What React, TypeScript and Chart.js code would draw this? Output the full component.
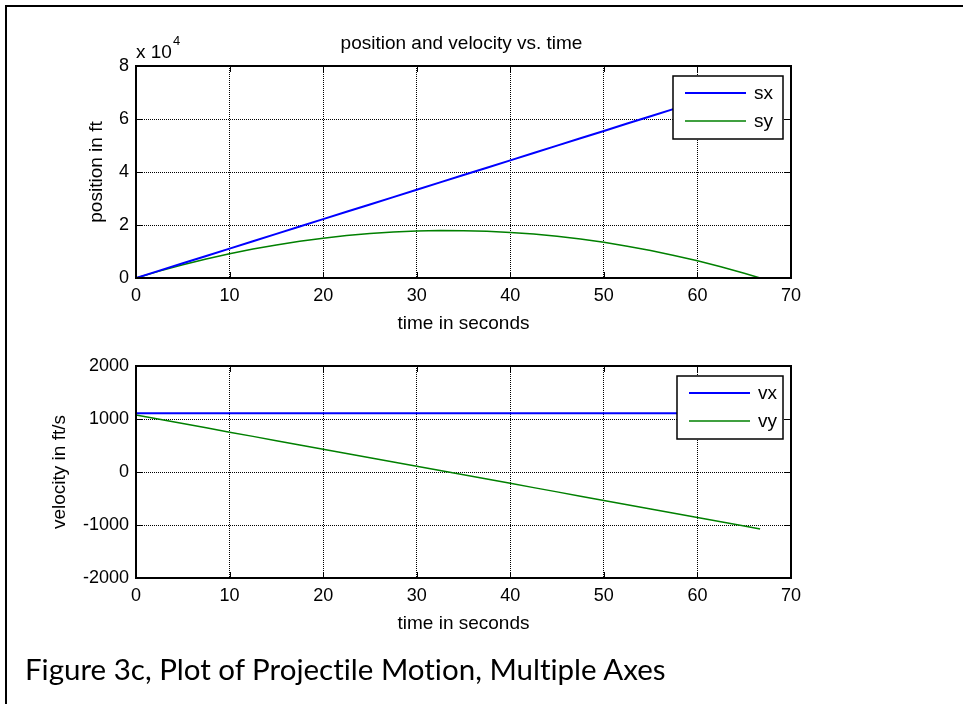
import React, { useEffect, useRef } from "react";
import { Chart, registerables } from "chart.js";

Chart.register(...registerables);

// ---------- data ----------
const timeS = [0, 2.5, 5, 7.5, 10, 12.5, 15, 17.5, 20, 22.5, 25, 27.5, 30, 32.5, 35, 37.5, 40, 42.5, 45, 47.5, 50, 52.5, 55, 57.5, 60, 62.5, 65, 66.7];
const sxFt = [0, 2775, 5550, 8325, 11100, 13875, 16650, 19425, 22200, 24975, 27750, 30525, 33300, 36075, 38850, 41625, 44400, 47175, 49950, 52725, 55500, 58275, 61050, 63825, 66600, 69375, 72150, 74040];
const syFt = [0, 2584, 4968, 7149, 9130, 10909, 12488, 13864, 15040, 16014, 16788, 17359, 17730, 17899, 17868, 17634, 17200, 16564, 15728, 14689, 13450, 12009, 10368, 8524, 6480, 4234, 1788, 0];
const vxFtS = [1110, 1110, 1110, 1110, 1110, 1110, 1110, 1110, 1110, 1110, 1110, 1110, 1110, 1110, 1110, 1110, 1110, 1110, 1110, 1110, 1110, 1110, 1110, 1110, 1110, 1110, 1110, 1110];
const vyFtS = [1074, 994, 913, 833, 752, 672, 591, 511, 430, 350, 269, 189, 108, 28, -53, -134, -214, -295, -375, -456, -536, -617, -697, -778, -858, -939, -1019, -1074];

const xTicks = [0, 10, 20, 30, 40, 50, 60, 70];
const posTicks = [0, 20000, 40000, 60000, 80000];
const velTicks = [-2000, -1000, 0, 1000, 2000];

const posLabels = ["sx", "sy"];
const velLabels = ["vx", "vy"];
const seriesColors = ["#0000ff", "#008000"];

const topTitle = "position and velocity vs. time";
const xTitle = "time in seconds";
const posTitle = "position in ft";
const velTitle = "velocity in ft/s";
const caption = "Figure 3c, Plot of Projectile Motion, Multiple Axes";

const FONT = '"Liberation Sans", Arial, sans-serif';

type PlotSpec = {
  series: number[][];
  labels: string[];
  yTicks: number[];
  yFmt: (v: number) => string;
  yTitle: string;
  yTitlePad: number;
  padTop: number;
  padBottom: number;
  legendW: number;
  drawHeader: boolean;
};

function decorPlugin(spec: PlotSpec) {
  return {
    id: "decor",
    afterDatasetsDraw(chart: any) {
      const { ctx, chartArea } = chart;
      const { left, right, top, bottom } = chartArea;
      const xs = chart.scales.x;
      const ys = chart.scales.y;
      ctx.save();
      // inward tick marks
      ctx.strokeStyle = "#000";
      ctx.lineWidth = 1;
      ctx.setLineDash([]);
      ctx.beginPath();
      for (const t of xs.ticks) {
        const px = Math.round(xs.getPixelForValue(t.value)) + 0.5;
        ctx.moveTo(px, bottom);
        ctx.lineTo(px, bottom - 6);
        ctx.moveTo(px, top);
        ctx.lineTo(px, top + 6);
      }
      for (const t of ys.ticks) {
        const py = Math.round(ys.getPixelForValue(t.value)) + 0.5;
        ctx.moveTo(left, py);
        ctx.lineTo(left + 6, py);
        ctx.moveTo(right, py);
        ctx.lineTo(right - 6, py);
      }
      ctx.stroke();
      // axes box
      ctx.lineWidth = 2;
      ctx.strokeRect(left, top, right - left, bottom - top);

      // legend
      const lw = spec.legendW;
      const lh = 63;
      const lx = right - 8 - lw;
      const ly = top + 10;
      ctx.fillStyle = "#fff";
      ctx.fillRect(lx, ly, lw, lh);
      ctx.lineWidth = 1.5;
      ctx.strokeStyle = "#000";
      ctx.strokeRect(lx, ly, lw, lh);
      chart.data.datasets.forEach((ds: any, i: number) => {
        const ry = ly + 17 + i * 28;
        ctx.strokeStyle = ds.borderColor;
        ctx.lineWidth = ds.borderWidth;
        ctx.beginPath();
        ctx.moveTo(lx + 12, ry);
        ctx.lineTo(lx + 73, ry);
        ctx.stroke();
        ctx.fillStyle = "#000";
        ctx.font = `19px ${FONT}`;
        ctx.textAlign = "left";
        ctx.textBaseline = "middle";
        ctx.fillText(ds.label, lx + 81, ry + 1);
      });

      if (spec.drawHeader) {
        ctx.fillStyle = "#000";
        ctx.font = `19px ${FONT}`;
        ctx.textAlign = "center";
        ctx.textBaseline = "middle";
        ctx.fillText(topTitle, (left + right) / 2 - 2, 44);
        ctx.textAlign = "left";
        const base = "x 10";
        ctx.fillText(base, left, 53);
        const w = ctx.measureText(base).width;
        ctx.font = `13px ${FONT}`;
        ctx.fillText("4", left + w + 1, 41);
      }
      ctx.restore();
    },
  };
}

function makeConfig(spec: PlotSpec): any {
  return {
    type: "line",
    data: {
      datasets: spec.series.map((vals, i) => ({
        label: spec.labels[i],
        data: timeS.map((t, j) => ({ x: t, y: vals[j] })),
        borderColor: seriesColors[i],
        backgroundColor: seriesColors[i],
        borderWidth: i === 0 ? 2 : 1.5,
        pointRadius: 0,
        fill: false,
        tension: 0,
      })),
    },
    options: {
      animation: false,
      responsive: false,
      events: [],
      layout: { padding: { left: 0, right: 172, top: spec.padTop, bottom: spec.padBottom } },
      plugins: { legend: { display: false }, tooltip: { enabled: false }, title: { display: false } },
      scales: {
        x: {
          type: "linear",
          min: xTicks[0],
          max: xTicks[xTicks.length - 1],
          afterBuildTicks: (s: any) => {
            s.ticks = xTicks.map((v) => ({ value: v }));
          },
          afterFit: (s: any) => {
            s.height = 60;
          },
          grid: { color: "#000", lineWidth: 1, drawTicks: false },
          border: { display: false, dash: [1, 1] },
          ticks: {
            color: "#000",
            font: { family: FONT, size: 18 },
            padding: 7,
            maxRotation: 0,
            autoSkip: false,
            callback: (v: any) => String(v),
          },
          title: {
            display: true,
            text: xTitle,
            color: "#000",
            font: { family: FONT, size: 19 },
            padding: { top: 0, bottom: 2.5 },
          },
        },
        y: {
          type: "linear",
          min: spec.yTicks[0],
          max: spec.yTicks[spec.yTicks.length - 1],
          afterBuildTicks: (s: any) => {
            s.ticks = spec.yTicks.map((v) => ({ value: v }));
          },
          afterFit: (s: any) => {
            s.width = 136;
          },
          grid: { color: "#000", lineWidth: 1, drawTicks: false },
          border: { display: false, dash: [1, 1] },
          ticks: {
            color: "#000",
            font: { family: FONT, size: 18 },
            padding: 7,
            autoSkip: false,
            callback: (v: any) => spec.yFmt(Number(v)),
          },
          title: {
            display: true,
            text: spec.yTitle,
            color: "#000",
            font: { family: FONT, size: 19 },
            padding: { top: spec.yTitlePad, bottom: 0 },
          },
        },
      },
    },
    plugins: [decorPlugin(spec)],
  };
}

function Plot({ spec, top, height }: { spec: PlotSpec; top: number; height: number }) {
  const ref = useRef<HTMLCanvasElement | null>(null);
  useEffect(() => {
    if (!ref.current) return;
    const chart = new Chart(ref.current, makeConfig(spec));
    return () => chart.destroy();
  }, []);
  return (
    <canvas
      ref={ref}
      width={963}
      height={height}
      style={{ position: "absolute", left: 0, top, width: 963, height }}
    />
  );
}

export default function App() {
  const topSpec: PlotSpec = {
    series: [sxFt, syFt],
    labels: posLabels,
    yTicks: posTicks,
    yFmt: (v) => String(v / 10000),
    yTitle: posTitle,
    yTitlePad: 85,
    padTop: 66,
    padBottom: 345 - 278 - 60,
    legendW: 110,
    drawHeader: true,
  };
  const botSpec: PlotSpec = {
    series: [vxFtS, vyFtS],
    labels: velLabels,
    yTicks: velTicks,
    yFmt: (v) => String(v),
    yTitle: velTitle,
    yTitlePad: 48,
    padTop: 366 - 345,
    padBottom: 359 - (578 - 345) - 60,
    legendW: 106,
    drawHeader: false,
  };
  return (
    <div
      style={{
        position: "fixed",
        left: 0,
        top: 0,
        width: 963,
        height: 704,
        overflow: "hidden",
        background: "#fff",
      }}
    >
      <div
        style={{
          position: "absolute",
          left: 5,
          top: 5,
          width: 1100,
          height: 900,
          border: "2px solid #000",
        }}
      />
      <Plot spec={topSpec} top={0} height={345} />
      <Plot spec={botSpec} top={345} height={359} />
      <div
        style={{
          position: "absolute",
          left: 25,
          top: 654,
          fontFamily: "Lato, 'Open Sans', sans-serif",
          fontSize: 29.5,
          lineHeight: 1,
          whiteSpace: "nowrap",
          fontVariantLigatures: "none",
          color: "#000",
        }}
      >
        {caption}
      </div>
    </div>
  );
}
